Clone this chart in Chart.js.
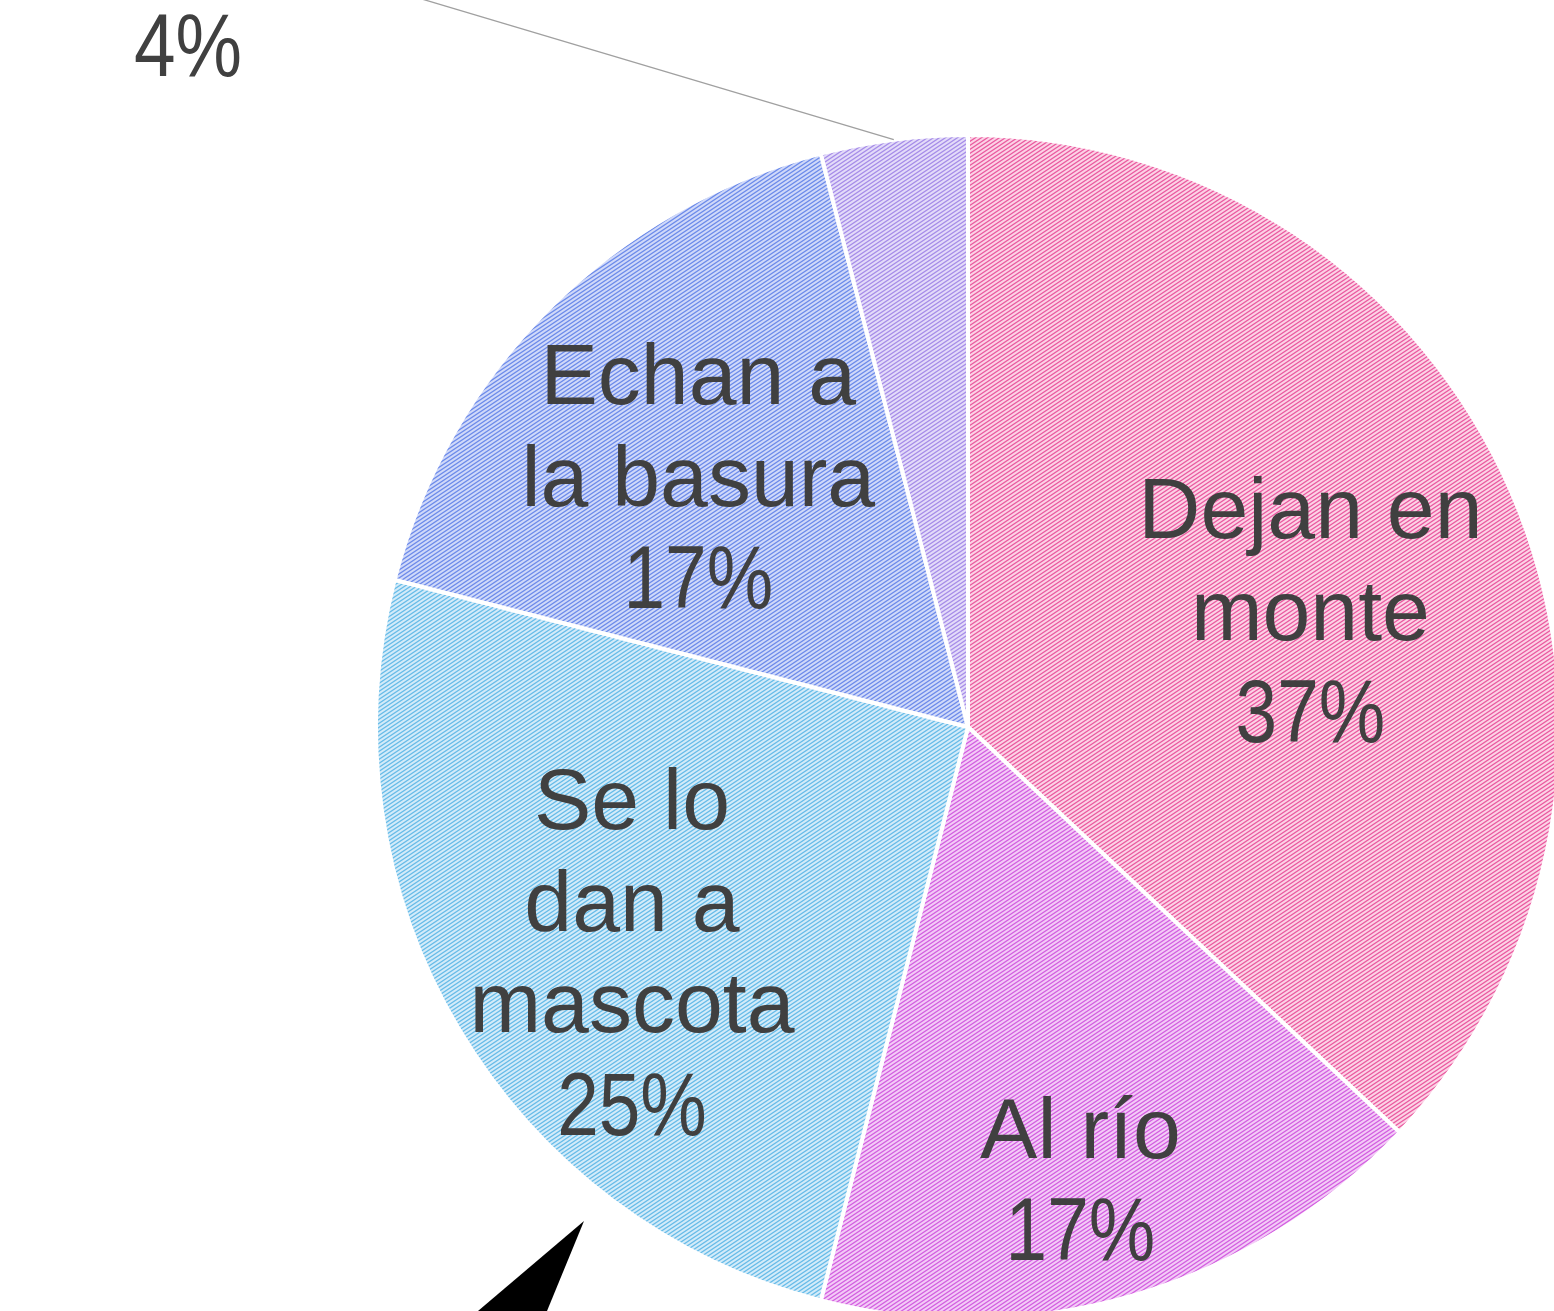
<!DOCTYPE html>
<html>
<head>
<meta charset="utf-8">
<script src="https://cdn.jsdelivr.net/npm/chart.js@4"></script>
<style>
  html, body { margin: 0; padding: 0; background: #ffffff; overflow: hidden; }
  #wrap { position: relative; width: 1554px; height: 1311px; overflow: hidden; }
</style>
</head>
<body>
<div id="wrap"><canvas id="destino-residuos" width="1562" height="1321"></canvas></div>
<script>
// Datos
var categorias = ["Dejan en monte", "Al río", "Se lo dan a mascota", "Echan a la basura", "Otro"];
var porcentajes = [37, 17, 25, 17, 4];
// lineas de cada etiqueta (el porcentaje se agrega al final)
var etiquetas = [["Dejan en", "monte"], ["Al río"], ["Se lo", "dan a", "mascota"], ["Echan a", "la basura"], []];

// Colores: fondo claro + rayas diagonales
var fondos = ["#fcd3e6", "#f3cbf7", "#d3ebf9", "#d0d9f9", "#e3dbf9"];
var rayas = ["#ea5aa0", "#d35fe0", "#66bbe8", "#6c8aea", "#a68ce8"];

function rayado(fondo, raya) {
    var w = 6, h = 4;
    var c = document.createElement("canvas");
    c.width = w; c.height = h;
    var g = c.getContext("2d");
    g.fillStyle = fondo;
    g.fillRect(0, 0, w, h);
    g.strokeStyle = raya;
    g.lineWidth = 1.3;
    g.beginPath();
    for (var k = -1; k <= 1; k++) {
        g.moveTo(k * w - 1, h + 2 / 3);
        g.lineTo(k * w + w + 1, -2 / 3);
    }
    g.stroke();
    return g.createPattern(c, "repeat");
}

var ctx = document.getElementById("destino-residuos").getContext("2d");
var patrones = fondos.map(function (f, i) { return rayado(f, rayas[i]); });

function textoPct(c, t, x, y) {
    // porcentaje en letra angosta
    c.save();
    c.translate(x, y);
    c.scale(0.84, 1);
    c.font = "89px 'Liberation Sans', Arial, sans-serif";
    c.fillText(t, 0, 0);
    c.restore();
}

// Etiquetas dentro de cada porción
var etiquetasPlugin = {
    id: "etiquetasPie",
    afterDatasetsDraw: function (chart, args, opts) {
        var c = chart.ctx;
        var meta = chart.getDatasetMeta(0);
        c.save();
        c.fillStyle = "#404040";
        c.textAlign = "center";
        c.textBaseline = "middle";
        meta.data.forEach(function (arc, i) {
            var p = arc.getProps(["x", "y", "startAngle", "endAngle", "outerRadius"], true);
            var ang = (p.startAngle + p.endAngle) / 2 + (opts.giro[i] || 0);
            var pct = porcentajes[i] + "%";
            if (i === 4) {
                // etiqueta exterior con linea guia
                var ex = p.x + Math.cos(ang) * p.outerRadius;
                var ey = p.y + Math.sin(ang) * p.outerRadius;
                c.strokeStyle = "#a0a0a0";
                c.lineWidth = 1.3;
                c.beginPath();
                c.moveTo(ex, ey);
                c.lineTo(ex - 600, ey - 600 * 0.298);
                c.stroke();
                textoPct(c, pct, p.x - 780, p.y - 676);
                return;
            }
            var r = p.outerRadius * opts.radio[i];
            var cx = p.x + Math.cos(ang) * r;
            var cy = p.y + Math.sin(ang) * r;
            var lineas = etiquetas[i].concat([pct]);
            var alto = 101.5;
            var y0 = cy - (lineas.length - 1) * alto / 2;
            lineas.forEach(function (t, k) {
                var y = y0 + k * alto + 4;
                if (k === lineas.length - 1) {
                    textoPct(c, t, cx, y);
                } else {
                    c.font = "86px 'Liberation Sans', Arial, sans-serif";
                    c.fillText(t, cx, y);
                }
            });
        });
        c.restore();
    }
};

// Flecha negra (recorte de otra llamada)
var flechaPlugin = {
    id: "flecha",
    afterDraw: function (chart) {
        var c = chart.ctx;
        c.save();
        c.fillStyle = "#000000";
        c.beginPath();
        c.moveTo(584, 1221);
        c.lineTo(547, 1311);
        c.lineTo(478, 1311);
        c.closePath();
        c.fill();
        c.restore();
    }
};

var grafico = new Chart(ctx, {
    type: "pie",
    data: {
        labels: categorias,
        datasets: [{
            data: porcentajes,
            backgroundColor: patrones,
            borderColor: "#ffffff",
            borderWidth: 4
        }]
    },
    options: {
        responsive: false,
        animation: false,
        layout: {
            padding: { left: 374, right: 0, top: 133, bottom: 0 }
        },
        plugins: {
            legend: { display: false },
            tooltip: { enabled: false },
            etiquetasPie: {
                radio: [0.61, 0.79, 0.685, 0.62, 1],
                giro: [0.085, 0.04, -0.06, -0.04, 0]
            }
        }
    },
    plugins: [etiquetasPlugin, flechaPlugin]
});
</script>
</body>
</html>
